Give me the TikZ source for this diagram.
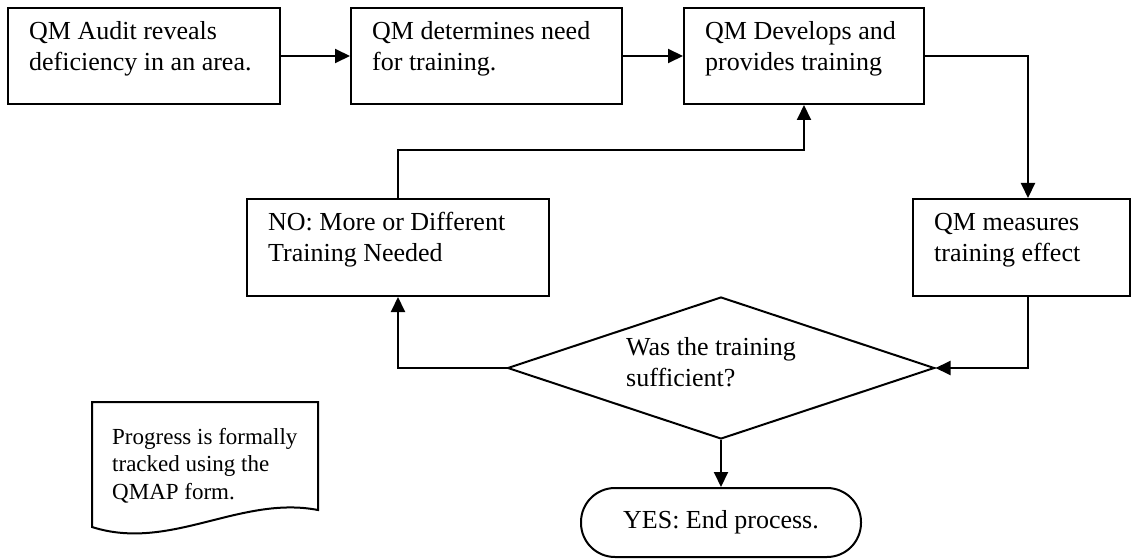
\documentclass[tikz,border=0pt]{standalone}
\usepackage{fontspec}
\setmainfont{Liberation Serif}
\usetikzlibrary{shapes.geometric,arrows.meta,calc}
\begin{document}
\begin{tikzpicture}[x=1pt,y=-1pt,
 box/.style={draw,line width=2pt,rectangle,inner sep=0pt},
 txt/.style={anchor=north west,inner sep=0pt,align=left,font=\fontsize{26}{31}\selectfont,execute at begin node={\rule{0pt}{23pt}}},
 small/.style={anchor=north west,inner sep=0pt,align=left,font=\fontsize{23}{27.5}\selectfont,execute at begin node={\rule{0pt}{20pt}}},
 arr/.style={line width=2pt,-{Triangle[length=15pt,width=14pt]}},
]
\useasboundingbox (0,0) rectangle (1133,559);
% boxes
\node[box,minimum width=272pt,minimum height=96pt] (b1) at (144,56) {};
\node[box,minimum width=271pt,minimum height=96pt] (b2) at (486.5,56) {};
\node[box,minimum width=240pt,minimum height=96pt] (b3) at (804,56) {};
\node[box,minimum width=217pt,minimum height=97pt] (m) at (1021.5,247.5) {};
\node[box,minimum width=302pt,minimum height=97pt] (no) at (398,247.5) {};
\node[draw,line width=2pt,diamond,inner sep=0pt,minimum width=427pt,minimum height=142pt] (d) at (721,368) {};
\node[draw,line width=2pt,rectangle,rounded corners=34pt,minimum width=280pt,minimum height=69pt,inner sep=0pt,font=\fontsize{26}{31}\selectfont] (t) at (721,522.5) {YES: End process.};
% texts (first baseline = y + 23)
\node[txt] (t1) at (29,21) {QM Audit reveals\\deficiency in an area.};
\node[txt] (t2) at (372,21) {QM determines need\\for training.};
\node[txt] (t3) at (705,21) {QM Develops and\\provides training};
\node[txt] (tm) at (934,213) {QM measures\\training effect};
\node[txt] (tno) at (268,212) {NO: More or Different\\Training Needed};
\node[txt] (td) at (626,337) {Was the training\\sufficient?};
% document shape
\draw[line width=2pt] (92,402) -- (318,402) -- (318,510) .. controls (240,495) and (170,552) .. (92,527) -- cycle;
\node[small] (tdoc) at (112,428) {Progress is formally\\tracked using the\\QMAP form.};
% connectors
\draw[arr] (b1.east) -- (b2.west);
\draw[arr] (b2.east) -- (b3.west);
\draw[arr] (b3.east) -| ($(m.north)+(6.5,0)$);
\draw[arr] ($(m.south)+(6.5,0)$) |- (d.east);
\draw[arr] (d.west) -| (no.south);
\draw[arr] (no.north) -- ++(0,-48) -| (b3.south);
\draw[arr] (d.south) -- (t.north);
\end{tikzpicture}
\end{document}
